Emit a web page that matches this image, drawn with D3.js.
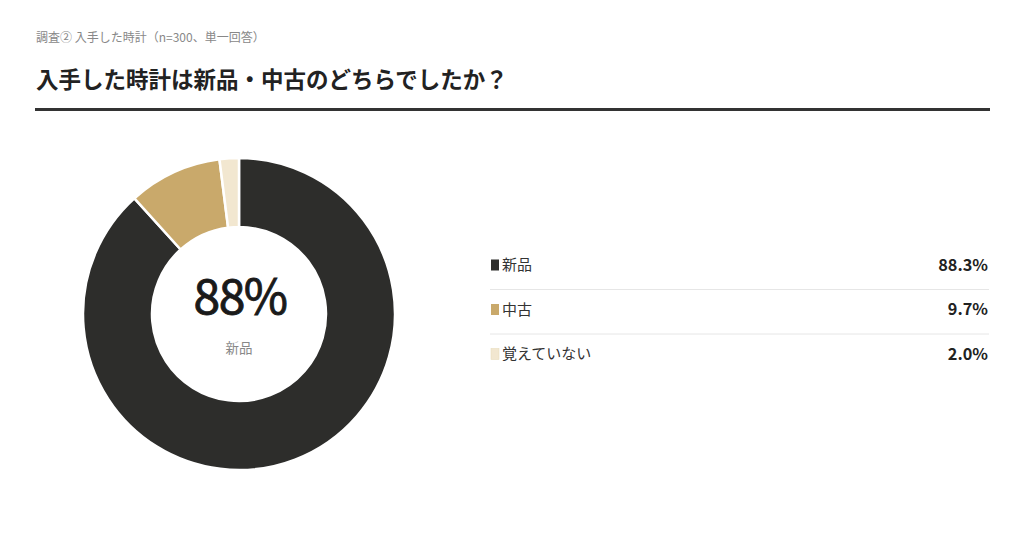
<!DOCTYPE html>
<html><head><meta charset="utf-8">
<script src="https://cdn.jsdelivr.net/npm/d3@7"></script>
<style>
html,body{margin:0;padding:0;background:#fff;}
svg{display:block;font-family:"Noto Sans CJK JP","Noto Sans",sans-serif;}
</style></head>
<body>
<svg id="chart" width="1024" height="538"></svg>
<script>
const categories = ["新品", "中古", "覚えていない"];
const values = [88.3, 9.7, 2.0];
const valueLabels = ["88.3%", "9.7%", "2.0%"];
const colors = ["#2d2d2b", "#c9a96b", "#f2e7d0"];
const subtitle = "調査② 入手した時計（n=300、単一回答）";
const title = "入手した時計は新品・中古のどちらでしたか？";
const centerValue = "88%";
const centerLabel = "新品";

const svg = d3.select("#chart");

svg.append("text").attr("x", 36).attr("y", 42).attr("font-size", 12).attr("fill", "#888").text(subtitle);
svg.append("text").attr("x", 36).attr("y", 88).attr("font-size", 22.5).attr("font-weight", "bold").attr("fill", "#222").text(title);
svg.append("rect").attr("x", 35).attr("y", 108).attr("width", 955).attr("height", 3).attr("fill", "#333");

const cx = 239, cy = 314;
const pie = d3.pie().sort(null).value(d => d)(values);
const arc = d3.arc().innerRadius(87).outerRadius(156);
const g = svg.append("g").attr("transform", `translate(${cx},${cy})`);
g.selectAll("path").data(pie).join("path")
  .attr("d", arc)
  .attr("fill", (d, i) => colors[i])
  .attr("stroke", "#fff").attr("stroke-width", 2.5);

g.append("text").attr("text-anchor", "middle").attr("x", 1).attr("y", 0).attr("font-size", 48)
  .attr("letter-spacing", -1.5).attr("fill", "#1a1a1a")
  .attr("stroke", "#1a1a1a").attr("stroke-width", 0.9).text(centerValue);
g.append("text").attr("text-anchor", "middle").attr("y", 39).attr("font-size", 13.5).attr("fill", "#888").text(centerLabel);

const y = d3.scalePoint().domain(categories).range([265, 354]);
const lg = svg.append("g");
categories.forEach((c, i) => {
  const yy = y(c);
  lg.append("rect").attr("x", 491).attr("y", yy - 5.5).attr("width", 8).attr("height", 11)
    .attr("fill", colors[i]).attr("stroke", i === 2 ? "#e6d9b8" : "none").attr("stroke-width", 0.5);
  lg.append("text").attr("x", 502).attr("y", yy + 5).attr("font-size", 15).attr("fill", "#333").text(c);
  lg.append("text").attr("x", 988).attr("y", yy + 5.5).attr("text-anchor", "end").attr("font-size", 16.3).attr("font-weight", "bold").attr("fill", "#222").text(valueLabels[i]);
  if (i < categories.length - 1) {
    lg.append("line").attr("x1", 490).attr("x2", 989).attr("y1", yy + 24.5).attr("y2", yy + 24.5)
      .attr("stroke", "#e6e6e6").attr("stroke-width", 1);
  }
});
</script>
</body></html>
